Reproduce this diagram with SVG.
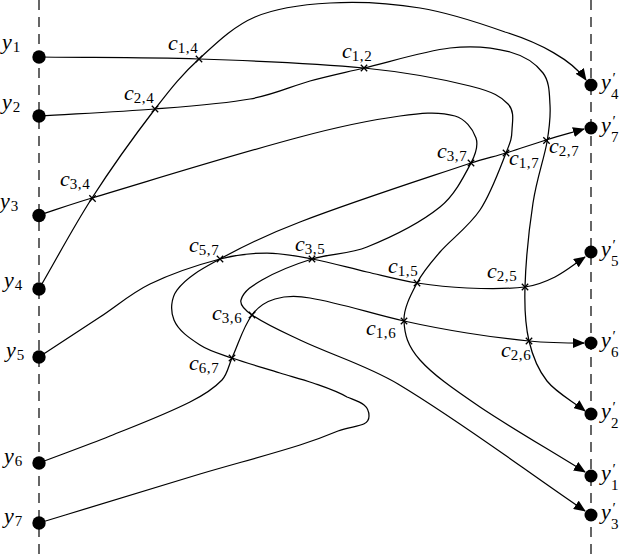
<svg xmlns="http://www.w3.org/2000/svg" xmlns:xlink="http://www.w3.org/1999/xlink" width="623" height="555" viewBox="0 0 623 555">
<defs>
<style>
.ax{stroke:#000;stroke-width:1.2;stroke-dasharray:10 7;fill:none}
.cv{stroke:#000;stroke-width:1.25;fill:none}
.end{marker-end:url(#arr)}
.dot{fill:#000}
.xm{stroke:#000;stroke-width:1.3;fill:none}
.m{font-family:"Liberation Serif","Times New Roman",serif;font-style:italic;font-size:22px;fill:#000}
.s{font-style:normal;font-size:15px;letter-spacing:0.6px}
.p{font-style:normal;font-size:15px}
</style>
<marker id="arr" markerUnits="userSpaceOnUse" markerWidth="12" markerHeight="10" viewBox="0 0 12 10" refX="11" refY="5" orient="auto">
<path d="M0,0 L12,5 L0,10 z" fill="#000"/>
</marker>
<path id="x" class="xm" d="M-3.2,-3.2L3.2,3.2M-3.2,3.2L3.2,-3.2"/>
</defs>
<rect width="623" height="555" fill="#fff"/>
<g id="axes">
<line class="ax" x1="39" y1="0" x2="39" y2="555"/>
<line class="ax" x1="591" y1="0" x2="591" y2="555"/>
</g>
<g id="connectors">
<path id="path1" class="cv end" d="M39,57 C92.3,57.7 144.8,57.2 199,59 C253.2,60.8 318.8,63.5 364,68 C409.2,72.5 446,80 470,86 C494,92 501,96.7 508,104 C515,111.3 512.3,121.8 512,130 C511.7,138.2 511.3,139.7 506,153 C500.7,166.3 491,193.5 480,210 C469,226.5 450.5,239.8 440,252 C429.5,264.2 423,271.5 417,283 C411,294.5 403.5,308.2 404,321 C404.5,333.8 407.3,345.7 420,360 C432.7,374.3 452.2,388.2 480,407 C507.8,425.8 551.3,451 585,472"/>
<path id="path2" class="cv end" d="M39,116 C77.7,113.7 119.8,111.8 155,109 C190.2,106.2 224.2,103.7 250,99 C275.8,94.3 291,86.2 310,81 C329,75.8 340.7,73.5 364,68 C387.3,62.5 425.7,50.7 450,48 C474.3,45.3 494.5,47.8 510,52 C525.5,56.2 536.3,64.2 543,73 C549.7,81.8 549.3,93.5 550,105 C550.7,116.5 549.8,125.7 547,142 C544.2,158.3 536.7,178.8 533,203 C529.3,227.2 525.7,264 525,287 C524.3,310 525.3,325.3 529,341 C532.7,356.7 537.7,369.3 547,381 C556.3,392.7 572.3,401 585,411"/>
<path id="path3" class="cv end" d="M39,215 C56.7,209.3 74.2,203.3 92,198 C161.3,177.3 230.2,155.6 300,137 C332.9,128.2 366.2,120.6 400,116 C418.1,113.5 437.4,110.9 455,116 C464.7,118.8 472.7,128.4 476,138 C478.7,146 474.9,155.5 471,163 C462.7,178.9 453.9,195.8 440,207 C418.4,224.4 392.7,236.6 367,247 C349.6,254.1 329.9,253.4 312,259 C294.7,264.4 277.7,270.9 262,280 C253.6,284.9 243.7,290.7 241,300 C239.3,306 246.9,311.5 252,315 C266.9,325.1 283.7,332.3 300,340 C332.4,355.3 367.3,365.6 398,384 C462.5,422.7 522.7,468.7 585,511"/>
<path id="path4" class="cv end" d="M39,289 C56.7,258.7 72.7,228 92,198 C111.3,168 137.2,132.2 155,109 C172.8,85.8 182.3,74.3 199,59 C215.7,43.7 233.2,26.3 255,17 C276.8,7.7 302.5,4.5 330,3 C357.5,1.5 390.8,3.2 420,8 C449.2,12.8 480.5,23.3 505,32 C540,43 572,60 586,80"/>
<path id="path5" class="cv end" d="M39,357 C59.3,343.7 79.7,330.3 100,317 C116.7,306 132,292.7 150,284 C172.3,273.2 196,265.3 220,259 C235.3,255 251.2,253 267,253 C282.1,253 297.2,256.2 312,259 C330.5,262.5 348.7,267.8 367,272 C383.7,275.8 400.1,280.3 417,283 C433.5,285.6 450.3,287.4 467,288 C486.3,288.7 505.9,289.4 525,287 C535.4,285.7 545.6,281.7 555,277 C565.7,271.6 575,263.7 585,257"/>
<path id="path6" class="cv end" d="M39,463 C62.6,454 86.5,445.5 110,436 C136.9,425.2 164.1,415 190,402 C201.5,396.2 213.1,389.3 222,380 C227.6,374.1 228.6,365.4 232,358 C238.6,343.7 242.7,327.8 252,315 C257.5,307.5 266.1,301.6 275,299 C286.2,295.7 298.5,296 310,298 C341.8,303.4 372.5,314 404,321 C424.9,325.7 445.9,329.6 467,333 C487.5,336.3 508.3,339 529,341 C547.3,342.7 565.6,343 584,343"/>
<path id="path7" class="cv end" d="M39,523 C92.7,506.7 146.3,490 200,474 C233.2,464.1 266.9,455.5 300,445 C315.2,440.2 326,436 338,431 C352,425 369,428 369,416 C369,404 359,402 347,397 C336.4,390.8 324.6,387.1 313,383 C302.2,379.1 291,376.4 280,373 C264,368 247.8,363.5 232,358 C221.2,354.2 209.6,351.3 200,345 C190,338.4 178.6,331.1 174,320 C170.1,310.8 171,298 177,290 C187.7,275.9 204.5,267.6 220,259 C245.7,244.8 272.5,232.5 300,222 C356.3,200.5 413.8,182.2 471,163 C482.5,159.2 494.4,156.5 506,153 C519.4,148.9 532.6,144.1 546,140 C558.6,136.1 571.3,132.7 584,129"/>
</g>
<g id="crossings">
<g id="c14"><use xlink:href="#x" x="199" y="59"/><text class="m" x="168" y="50">c<tspan class="s" dy="3">1,4</tspan></text></g>
<g id="c24"><use xlink:href="#x" x="155" y="109"/><text class="m" x="124" y="100">c<tspan class="s" dy="3">2,4</tspan></text></g>
<g id="c34"><use xlink:href="#x" x="92.5" y="198.5"/><text class="m" x="60" y="186">c<tspan class="s" dy="3">3,4</tspan></text></g>
<g id="c12"><use xlink:href="#x" x="364" y="68"/><text class="m" x="342" y="58">c<tspan class="s" dy="3">1,2</tspan></text></g>
<g id="c37"><use xlink:href="#x" x="471" y="163"/><text class="m" x="437" y="158">c<tspan class="s" dy="3">3,7</tspan></text></g>
<g id="c17"><use xlink:href="#x" x="506" y="153"/><text class="m" x="509" y="165">c<tspan class="s" dy="3">1,7</tspan></text></g>
<g id="c27"><use xlink:href="#x" x="546.5" y="140.5"/><text class="m" x="549" y="153">c<tspan class="s" dy="3">2,7</tspan></text></g>
<g id="c57"><use xlink:href="#x" x="220" y="259"/><text class="m" x="189" y="252">c<tspan class="s" dy="3">5,7</tspan></text></g>
<g id="c35"><use xlink:href="#x" x="312" y="259"/><text class="m" x="295" y="251">c<tspan class="s" dy="3">3,5</tspan></text></g>
<g id="c36"><use xlink:href="#x" x="252" y="315"/><text class="m" x="212" y="320">c<tspan class="s" dy="3">3,6</tspan></text></g>
<g id="c67"><use xlink:href="#x" x="232" y="358"/><text class="m" x="189" y="370">c<tspan class="s" dy="3">6,7</tspan></text></g>
<g id="c15"><use xlink:href="#x" x="417" y="283"/><text class="m" x="388" y="273">c<tspan class="s" dy="3">1,5</tspan></text></g>
<g id="c25"><use xlink:href="#x" x="525" y="287"/><text class="m" x="487" y="278">c<tspan class="s" dy="3">2,5</tspan></text></g>
<g id="c16"><use xlink:href="#x" x="404" y="321"/><text class="m" x="366" y="335">c<tspan class="s" dy="3">1,6</tspan></text></g>
<g id="c26"><use xlink:href="#x" x="529" y="341"/><text class="m" x="501" y="357">c<tspan class="s" dy="3">2,6</tspan></text></g>
</g>
<g id="y1"><circle class="dot" cx="39" cy="57" r="6.7"/><text class="m" x="2" y="49">y<tspan class="s" dx="1" dy="3">1</tspan></text></g>
<g id="y2"><circle class="dot" cx="39" cy="116" r="6.7"/><text class="m" x="2" y="109">y<tspan class="s" dx="1" dy="3">2</tspan></text></g>
<g id="y3"><circle class="dot" cx="39" cy="215.5" r="6.7"/><text class="m" x="0" y="208">y<tspan class="s" dx="1" dy="3">3</tspan></text></g>
<g id="y4"><circle class="dot" cx="39" cy="289" r="6.7"/><text class="m" x="4" y="287">y<tspan class="s" dx="1" dy="3">4</tspan></text></g>
<g id="y5"><circle class="dot" cx="39" cy="357" r="6.7"/><text class="m" x="6" y="357">y<tspan class="s" dx="1" dy="3">5</tspan></text></g>
<g id="y6"><circle class="dot" cx="39" cy="463" r="6.7"/><text class="m" x="4" y="463">y<tspan class="s" dx="1" dy="3">6</tspan></text></g>
<g id="y7"><circle class="dot" cx="39" cy="523" r="6.7"/><text class="m" x="4" y="523">y<tspan class="s" dx="1" dy="3">7</tspan></text></g>
<g id="y4p"><circle class="dot" cx="591" cy="85" r="6.5"/><text class="m" x="601" y="89">y<tspan class="p" x="612.5" y="83">′</tspan><tspan class="s" x="611" y="99">4</tspan></text></g>
<g id="y7p"><circle class="dot" cx="591" cy="128" r="6.5"/><text class="m" x="601" y="132">y<tspan class="p" x="612.5" y="126">′</tspan><tspan class="s" x="611" y="142">7</tspan></text></g>
<g id="y5p"><circle class="dot" cx="591" cy="252" r="6.5"/><text class="m" x="601" y="256">y<tspan class="p" x="612.5" y="250">′</tspan><tspan class="s" x="611" y="266">5</tspan></text></g>
<g id="y6p"><circle class="dot" cx="591" cy="343" r="6.5"/><text class="m" x="601" y="347">y<tspan class="p" x="612.5" y="341">′</tspan><tspan class="s" x="611" y="357">6</tspan></text></g>
<g id="y2p"><circle class="dot" cx="591" cy="414" r="6.5"/><text class="m" x="601" y="418">y<tspan class="p" x="612.5" y="412">′</tspan><tspan class="s" x="611" y="428">2</tspan></text></g>
<g id="y1p"><circle class="dot" cx="591" cy="476" r="6.5"/><text class="m" x="601" y="480">y<tspan class="p" x="612.5" y="474">′</tspan><tspan class="s" x="611" y="490">1</tspan></text></g>
<g id="y3p"><circle class="dot" cx="591" cy="515" r="6.5"/><text class="m" x="601" y="519">y<tspan class="p" x="612.5" y="513">′</tspan><tspan class="s" x="611" y="529">3</tspan></text></g>
</svg>
